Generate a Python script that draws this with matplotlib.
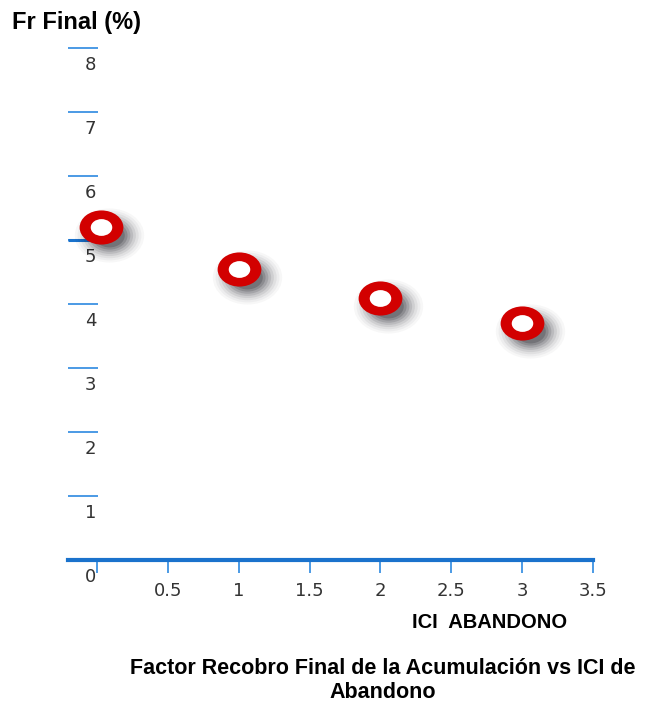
import matplotlib
matplotlib.use("Agg")
import matplotlib.pyplot as plt
from matplotlib.path import Path
from matplotlib.transforms import Affine2D, ScaledTranslation

# data
ici = [0.03, 1.0, 2.0, 3.0]
fr_final = [5.2, 4.55, 4.1, 3.7]
x_ticks = [0, 0.5, 1, 1.5, 2, 2.5, 3, 3.5]
x_labels = ["", "0.5", "1", "1.5", "2", "2.5", "3", "3.5"]
y_ticks = [0, 1, 2, 3, 4, 5, 6, 7, 8]

axis_blue = "#1a72cc"
tick_blue = "#3d92e3"
ring_red = "#d20000"
bold = {"family": "Liberation Sans", "weight": "bold"}

fig = plt.figure(figsize=(6.63, 7.02), dpi=100)
ax = fig.add_axes([68 / 663, 142 / 702, 525 / 663, 524.8 / 702])
ax.set_xlim(-0.205, 3.5)
ax.set_ylim(0, 8.2)
for s in ax.spines.values():
    s.set_visible(False)

# x axis: thick line + downward ticks
ax.axhline(0, color=axis_blue, lw=3, clip_on=False, zorder=3)
ax.set_xticks(x_ticks)
ax.set_xticklabels(x_labels)
ax.tick_params(axis="x", direction="out", length=9, width=1.3, color=tick_blue,
               pad=7, labelsize=13, labelcolor="#333333")
for lab in ax.get_xticklabels():
    lab.set_family("DejaVu Sans")

# y axis: short horizontal marks with labels underneath
ax.set_yticks([])
ax.hlines(y_ticks[1:], -0.205, 0.005, color=tick_blue, lw=1.3, clip_on=False)
ax.hlines([5], -0.205, 0.005, color=axis_blue, lw=2.2, clip_on=False)
for v in y_ticks:
    ax.annotate(str(v), xy=(0, v), xytext=(-0.5, -12.5), textcoords="offset points",
                ha="right", va="center", fontsize=13, color="#333333",
                family="DejaVu Sans", annotation_clip=False)

# elliptical ring markers with soft shadow
ellipse = Path.unit_circle().transformed(Affine2D().scale(1.0, 0.78))
shift = ax.transData + ScaledTranslation(8 / 100, -8 / 100, fig.dpi_scale_trans)
for size, alpha in [(50, 0.03), (46, 0.04), (42, 0.06), (38, 0.08),
                    (34, 0.10), (30, 0.13), (26, 0.16), (22, 0.2)]:
    ax.plot(ici, fr_final, ls="none", marker=ellipse, markersize=size,
            markerfacecolor="#101018", markeredgewidth=0, alpha=alpha,
            transform=shift, zorder=4)
ax.plot(ici, fr_final, ls="none", marker=ellipse, markersize=31.5,
        markerfacecolor=ring_red, markeredgewidth=0, zorder=5, clip_on=False)
ax.plot(ici, fr_final, ls="none", marker=ellipse, markersize=15.5,
        markerfacecolor="white", markeredgewidth=0, zorder=6, clip_on=False)

# texts
fig.text(12 / 663, 1 - 22 / 702, "Fr Final (%)", ha="left", va="center",
         fontsize=17, **bold)
fig.text(490 / 663, 1 - 622 / 702, "ICI  ABANDONO", ha="center", va="center",
         fontsize=14.5, **bold)
fig.text(383 / 663, 1 - 669 / 702, "Factor Recobro Final de la Acumulación vs ICI de",
         ha="center", va="center", fontsize=15.5, **bold)
fig.text(383 / 663, 1 - 692 / 702, "Abandono", ha="center", va="center",
         fontsize=15.5, **bold)

fig.savefig("out.png", dpi=100)
